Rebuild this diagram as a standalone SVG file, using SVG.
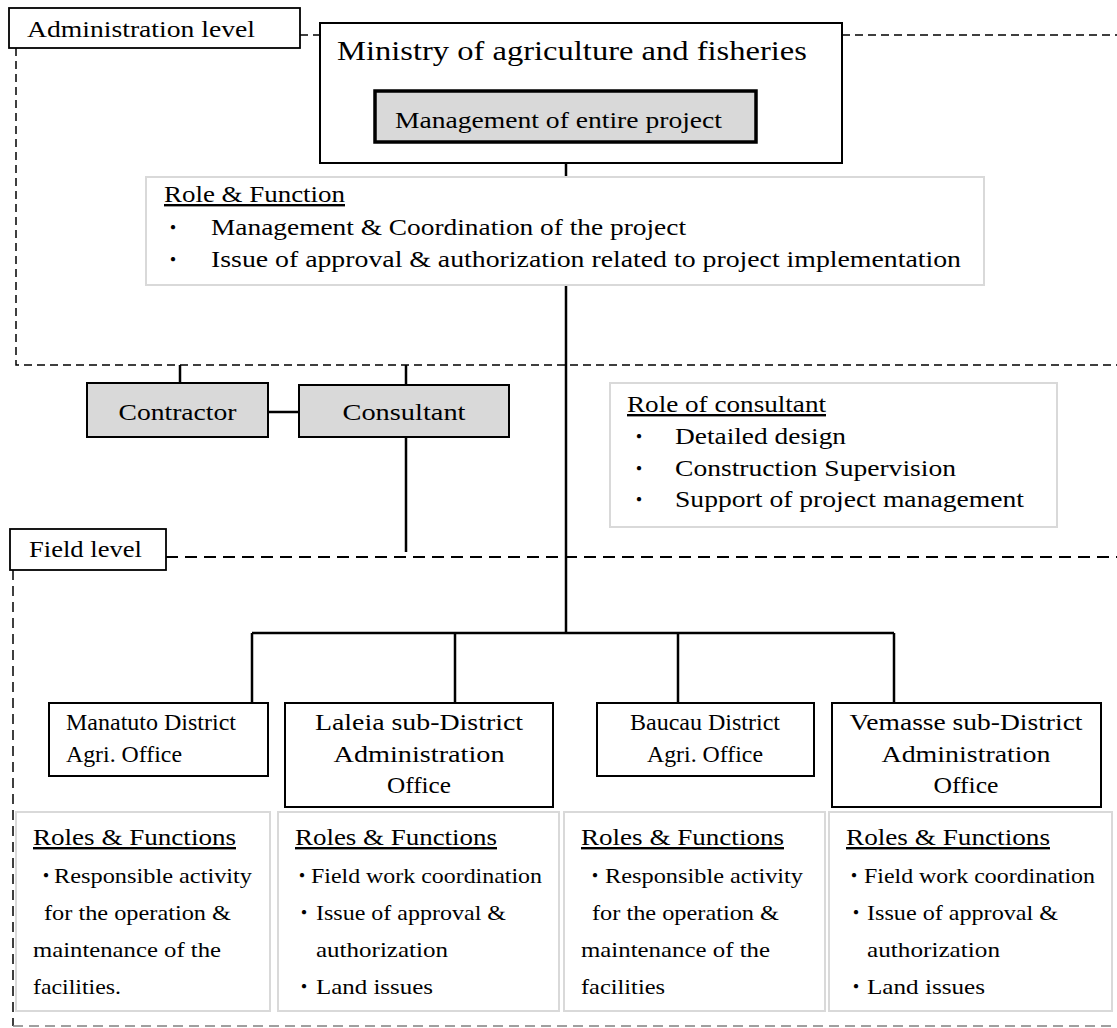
<svg xmlns="http://www.w3.org/2000/svg" width="1117" height="1028" viewBox="0 0 1117 1028">
<style>
.t{font-family:"Liberation Serif","Times New Roman",serif;font-size:24px;fill:#000}
.s{font-family:"Liberation Serif","Times New Roman",serif;font-size:22px;fill:#000}
.big{font-size:27px}
.u{text-decoration:underline}
.m{text-anchor:middle}
.b{font-family:"Noto Sans CJK JP","Noto Sans",sans-serif;font-size:20px;text-anchor:middle;fill:#000}
.box{fill:#fff;stroke:#000;stroke-width:2}
.gbox{fill:#d9d9d9;stroke:#000;stroke-width:2}
.lbox{fill:#fff;stroke:#d9d9d9;stroke-width:2}
.ln{stroke:#000;stroke-width:2.5;fill:none}
.d1{stroke:#000;stroke-width:1.5;stroke-dasharray:8 5;fill:none}
.d2{stroke:#000;stroke-width:2.2;stroke-dasharray:12 7;fill:none}
.d3{stroke:#808080;stroke-width:1.5;stroke-dasharray:10 6;fill:none}
</style>
<rect width="1117" height="1028" fill="#fff"/>
<g id="connectors">
<path class="d1" d="M300 35H320M842 35H1117M16 48V365H1117"/>
<path class="d2" d="M166 557H1117"/>
<path class="d2" d="M13 570V1026" style="stroke-width:1.5;stroke-dasharray:10 6"/>
<path class="d3" d="M13 1026H1117"/>
<path class="ln" d="M566 163V633M252 633H894M252 633V703M455 633V703M678 633V703M894 633V703"/>
<path class="ln" d="M180 365V383M406 365V385M406 437V552M268 412H299"/>
</g>
<g id="admin-level">
<rect class="box" x="9" y="8" width="291" height="40" style="stroke-width:1.8"/>
<text class="t" x="27" y="37" textLength="228" lengthAdjust="spacingAndGlyphs">Administration level</text>
</g>
<g id="ministry">
<rect class="box" x="320" y="23" width="522" height="140"/>
<text class="t big" x="337" y="60" textLength="470" lengthAdjust="spacingAndGlyphs">Ministry of agriculture and fisheries</text>
</g>
<g id="management">
<rect class="gbox" x="375" y="91" width="381" height="51" style="stroke-width:3.5"/>
<text class="t" x="395" y="128" textLength="327" lengthAdjust="spacingAndGlyphs">Management of entire project</text>
</g>
<g id="role-function">
<rect class="lbox" x="146" y="177" width="838" height="108"/>
<text class="t u" x="164" y="202" textLength="181" lengthAdjust="spacingAndGlyphs">Role &amp; Function</text>
<text class="b" x="173" y="235">・</text>
<text class="t" x="211" y="235" textLength="475" lengthAdjust="spacingAndGlyphs">Management &amp; Coordination of the project</text>
<text class="b" x="173" y="267">・</text>
<text class="t" x="211" y="267" textLength="750" lengthAdjust="spacingAndGlyphs">Issue of approval &amp; authorization related to project implementation</text>
</g>
<g id="contractor">
<rect class="gbox" x="87" y="383" width="181" height="54"/>
<text class="t m" x="177.5" y="420" textLength="118" lengthAdjust="spacingAndGlyphs">Contractor</text>
</g>
<g id="consultant">
<rect class="gbox" x="299" y="385" width="210" height="52"/>
<text class="t m" x="404" y="420" textLength="123" lengthAdjust="spacingAndGlyphs">Consultant</text>
</g>
<g id="role-consultant">
<rect class="lbox" x="610" y="383" width="447" height="144"/>
<text class="t u" x="627" y="412" textLength="199" lengthAdjust="spacingAndGlyphs">Role of consultant</text>
<text class="b" x="639" y="444">・</text>
<text class="t" x="675" y="444" textLength="171" lengthAdjust="spacingAndGlyphs">Detailed design</text>
<text class="b" x="639" y="476">・</text>
<text class="t" x="675" y="476" textLength="281" lengthAdjust="spacingAndGlyphs">Construction Supervision</text>
<text class="b" x="639" y="507">・</text>
<text class="t" x="675" y="507" textLength="349" lengthAdjust="spacingAndGlyphs">Support of project management</text>
</g>
<g id="field-level">
<rect class="box" x="10" y="529" width="156" height="41" style="stroke-width:1.8"/>
<text class="t" x="29" y="557" textLength="113" lengthAdjust="spacingAndGlyphs">Field level</text>
</g>
<g id="manatuto">
<rect class="box" x="49" y="703" width="219" height="73"/>
<text class="t" x="66" y="730" textLength="170" lengthAdjust="spacingAndGlyphs">Manatuto District</text>
<text class="t" x="66" y="762" textLength="116" lengthAdjust="spacingAndGlyphs">Agri. Office</text>
</g>
<g id="laleia">
<rect class="box" x="285" y="703" width="268" height="104"/>
<text class="t m" x="419" y="730" textLength="208" lengthAdjust="spacingAndGlyphs">Laleia sub-District</text>
<text class="t m" x="419" y="762" textLength="171" lengthAdjust="spacingAndGlyphs">Administration</text>
<text class="t m" x="419" y="793" textLength="64" lengthAdjust="spacingAndGlyphs">Office</text>
</g>
<g id="baucau">
<rect class="box" x="597" y="703" width="217" height="73"/>
<text class="t m" x="705" y="730" textLength="150" lengthAdjust="spacingAndGlyphs">Baucau District</text>
<text class="t m" x="705" y="762" textLength="116" lengthAdjust="spacingAndGlyphs">Agri. Office</text>
</g>
<g id="vemasse">
<rect class="box" x="832" y="703" width="269" height="104"/>
<text class="t m" x="966" y="730" textLength="233" lengthAdjust="spacingAndGlyphs">Vemasse sub-District</text>
<text class="t m" x="966" y="762" textLength="169" lengthAdjust="spacingAndGlyphs">Administration</text>
<text class="t m" x="966" y="793" textLength="65" lengthAdjust="spacingAndGlyphs">Office</text>
</g>
<g id="roles-manatuto">
<rect class="lbox" x="16" y="812" width="254" height="199"/>
<text class="t u" x="33" y="845" textLength="203" lengthAdjust="spacingAndGlyphs">Roles &amp; Functions</text>
<text class="b" x="46" y="883">・</text>
<text class="s" x="54" y="883" textLength="198" lengthAdjust="spacingAndGlyphs">Responsible activity</text>
<text class="s" x="44" y="920" textLength="187" lengthAdjust="spacingAndGlyphs">for the operation &amp;</text>
<text class="s" x="33" y="957" textLength="188" lengthAdjust="spacingAndGlyphs">maintenance of the</text>
<text class="s" x="33" y="994" textLength="88" lengthAdjust="spacingAndGlyphs">facilities.</text>
</g>
<g id="roles-laleia">
<rect class="lbox" x="278" y="812" width="281" height="199"/>
<text class="t u" x="295" y="845" textLength="202" lengthAdjust="spacingAndGlyphs">Roles &amp; Functions</text>
<text class="b" x="302" y="883">・</text>
<text class="s" x="311" y="883" textLength="231" lengthAdjust="spacingAndGlyphs">Field work coordination</text>
<text class="b" x="304" y="920">・</text>
<text class="s" x="316" y="920" textLength="190" lengthAdjust="spacingAndGlyphs">Issue of approval &amp;</text>
<text class="s" x="316" y="957" textLength="132" lengthAdjust="spacingAndGlyphs">authorization</text>
<text class="b" x="304" y="994">・</text>
<text class="s" x="316" y="994" textLength="117" lengthAdjust="spacingAndGlyphs">Land issues</text>
</g>
<g id="roles-baucau">
<rect class="lbox" x="564" y="812" width="261" height="199"/>
<text class="t u" x="581" y="845" textLength="203" lengthAdjust="spacingAndGlyphs">Roles &amp; Functions</text>
<text class="b" x="595" y="883">・</text>
<text class="s" x="605" y="883" textLength="198" lengthAdjust="spacingAndGlyphs">Responsible activity</text>
<text class="s" x="592" y="920" textLength="187" lengthAdjust="spacingAndGlyphs">for the operation &amp;</text>
<text class="s" x="581" y="957" textLength="189" lengthAdjust="spacingAndGlyphs">maintenance of the</text>
<text class="s" x="581" y="994" textLength="84" lengthAdjust="spacingAndGlyphs">facilities</text>
</g>
<g id="roles-vemasse">
<rect class="lbox" x="829" y="812" width="283" height="199"/>
<text class="t u" x="846" y="845" textLength="204" lengthAdjust="spacingAndGlyphs">Roles &amp; Functions</text>
<text class="b" x="854" y="883">・</text>
<text class="s" x="864" y="883" textLength="231" lengthAdjust="spacingAndGlyphs">Field work coordination</text>
<text class="b" x="856" y="920">・</text>
<text class="s" x="867" y="920" textLength="191" lengthAdjust="spacingAndGlyphs">Issue of approval &amp;</text>
<text class="s" x="867" y="957" textLength="133" lengthAdjust="spacingAndGlyphs">authorization</text>
<text class="b" x="856" y="994">・</text>
<text class="s" x="867" y="994" textLength="118" lengthAdjust="spacingAndGlyphs">Land issues</text>
</g>
</svg>
